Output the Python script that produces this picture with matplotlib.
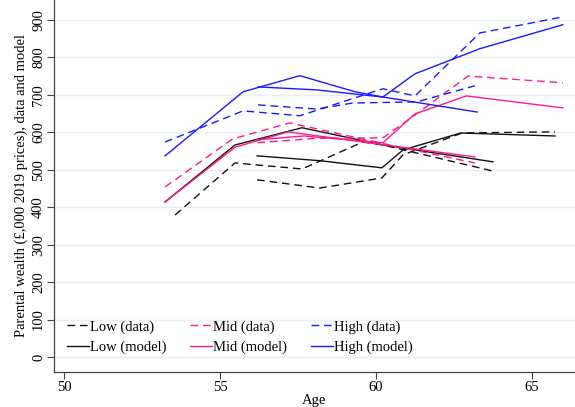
import matplotlib
matplotlib.use("Agg")
import matplotlib.pyplot as plt

plt.rcParams['font.family'] = ['Liberation Serif', 'DejaVu Serif']

# ages and wealth (£000), two cohorts per group: "a" (older start) and "b"
low_data_age_a = [53.56, 55.48, 57.63, 59.58, 60.22, 63.72]
low_data_val_a = [379, 518, 502, 574, 566, 497]
low_data_age_b = [56.19, 58.2, 60.19, 60.87, 62.76, 65.74]
low_data_val_b = [473, 451, 478, 540, 598, 601]

low_model_age_a = [53.24, 55.48, 57.63, 60.22, 63.75]
low_model_val_a = [414, 566, 612, 566, 521]
low_model_age_b = [56.19, 58.2, 60.19, 60.87, 62.72, 65.74]
low_model_val_b = [537, 524, 505, 553, 598, 590]

mid_data_age_a = [53.24, 55.4, 57.24, 60.22, 63.17]
mid_data_val_a = [454, 582, 625, 570, 518]
mid_data_age_b = [56.2, 58.1, 60.22, 61.25, 62.95, 65.99]
mid_data_val_b = [572, 584, 585, 646, 750, 732]

mid_model_age_a = [53.24, 55.48, 57.18, 59.58, 63.17]
mid_model_val_a = [414, 560, 601, 574, 534]
mid_model_age_b = [56.2, 57.7, 60.22, 61.25, 62.9, 65.99]
mid_model_val_b = [580, 590, 572, 649, 697, 665]

high_data_age_a = [53.24, 55.74, 57.56, 60.22, 61.25, 63.33, 65.99]
high_data_val_a = [574, 657, 644, 716, 697, 865, 908]
high_data_age_b = [56.22, 58.1, 59.26, 61.31, 63.17]
high_data_val_b = [673, 662, 678, 681, 724]

high_model_age_a = [53.24, 55.74, 57.56, 59.33, 60.22, 61.25, 63.33, 65.99]
high_model_val_a = [537, 708, 751, 708, 694, 756, 823, 887]
high_model_age_b = [56.22, 58.1, 60.22, 63.24]
high_model_val_b = [721, 713, 694, 654]

black = '#111111'
pink = '#ff1a8c'
blue = '#1a1aff'
dash = (0, (5.5, 3.5))

fig = plt.figure(figsize=(5.75, 4.07), dpi=100)
ax = fig.add_axes([0.094, 0.086, 0.906, 0.914])

series = [
    ('Low (data)', black, dash, low_data_age_a, low_data_val_a, low_data_age_b, low_data_val_b),
    ('Low (model)', black, '-', low_model_age_a, low_model_val_a, low_model_age_b, low_model_val_b),
    ('Mid (data)', pink, dash, mid_data_age_a, mid_data_val_a, mid_data_age_b, mid_data_val_b),
    ('Mid (model)', pink, '-', mid_model_age_a, mid_model_val_a, mid_model_age_b, mid_model_val_b),
    ('High (data)', blue, dash, high_data_age_a, high_data_val_a, high_data_age_b, high_data_val_b),
    ('High (model)', blue, '-', high_model_age_a, high_model_val_a, high_model_age_b, high_model_val_b),
]
for label, c, ls, xa, ya, xb, yb in series:
    ax.plot(xa, ya, color=c, linestyle=ls, linewidth=1.0, label=label)
    ax.plot(xb, yb, color=c, linestyle=ls, linewidth=1.0)

# axes, grid
ax.set_xlim(49.68, 66.38)
ax.set_ylim(-40, 953)
ax.set_yticks(range(0, 1000, 100))
ax.set_xticks([50, 55, 60, 65])
ax.grid(axis='y', color='#e8f0f2', linewidth=1.0)
ax.set_axisbelow(True)
for s in ['top', 'right']:
    ax.spines[s].set_visible(False)
for s in ['left', 'bottom']:
    ax.spines[s].set_color('#444444')
    ax.spines[s].set_linewidth(0.9)
ax.tick_params(axis='both', direction='out', length=5, width=0.8, color='#444444',
               labelsize=10.5, pad=1.5)
plt.setp(ax.get_yticklabels(), rotation=90, va='center')
ax.set_xlabel('Age', fontsize=10.5, labelpad=0)
ax.set_ylabel('Parental wealth (£,000 2019 prices), data and model', fontsize=10.5, labelpad=3)

ax.legend(loc='lower left', bbox_to_anchor=(0.005, 0.02), ncol=3, frameon=False, fontsize=10.5,
          handlelength=1.5, handletextpad=0.1, columnspacing=1.6, labelspacing=0.5, borderaxespad=0.3)

fig.savefig('out.png', dpi=100)
